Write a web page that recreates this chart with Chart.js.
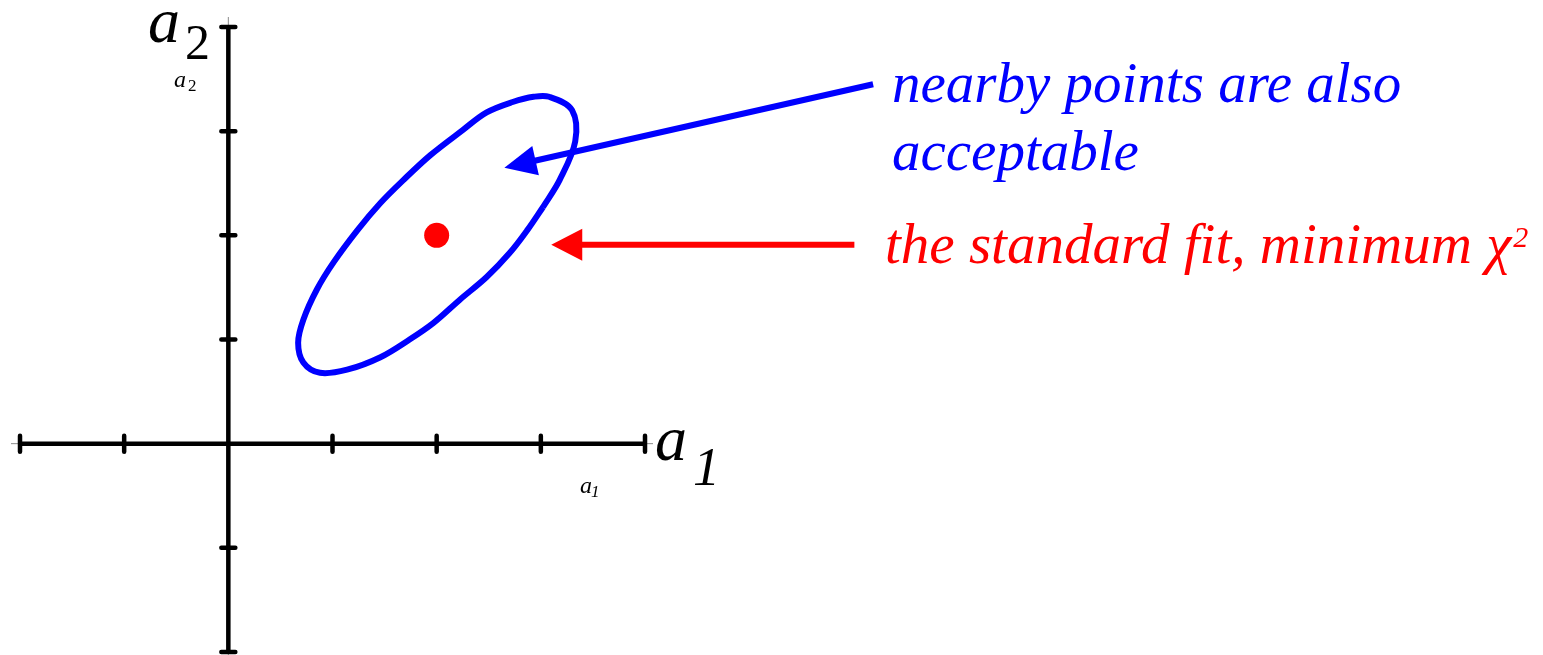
<!DOCTYPE html>
<html>
<head>
<meta charset="utf-8">
<script src="https://cdn.jsdelivr.net/npm/chart.js@4.4.1/dist/chart.umd.min.js"></script>
<style>
  html, body { margin: 0; padding: 0; background: #ffffff; overflow: hidden; }
  canvas { display: block; }
</style>
</head>
<body>
<canvas id="c" width="1543" height="655"></canvas>
<script>
// ---- data ----
const xTicks = [-2, -1, 1, 2, 3, 4];
const yTicks = [-2, -1, 1, 2, 3, 4];
const ellipseX = [3.02, 2.87, 2.70, 2.48, 2.22, 1.97, 1.74, 1.46, 1.14, 0.88, 0.72, 0.67, 0.72, 0.85, 1.01, 1.24, 1.46, 1.68, 1.94, 2.25, 2.48, 2.73, 2.93, 3.08, 3.30, 3.33, 3.18, 3.02];
const ellipseY = [2.27, 2.05, 1.83, 1.60, 1.38, 1.16, 1.00, 0.83, 0.71, 0.68, 0.78, 0.97, 1.19, 1.48, 1.74, 2.05, 2.31, 2.53, 2.77, 3.01, 3.18, 3.28, 3.33, 3.33, 3.20, 2.90, 2.53, 2.27];
const fitX = [2.0];
const fitY = [2.0];
const blueNote = ["nearby points are also", "acceptable"];
const redNote = "the standard fit, minimum χ";

// annotation anchors in data units
const blueArrow = { from: [6.19, 3.45], to: [2.65, 2.65] };
const redArrow = { from: [6.01, 1.91], to: [3.10, 1.91] };

const serif = '"Liberation Serif", "Times New Roman", serif';

const axesPlugin = {
  id: 'axes',
  beforeDatasetsDraw(chart) {
    const ctx = chart.ctx, xs = chart.scales.x, ys = chart.scales.y;
    const x0 = xs.getPixelForValue(0), y0 = ys.getPixelForValue(0);
    const xl = xs.getPixelForValue(-2), xr = xs.getPixelForValue(4);
    const yt = ys.getPixelForValue(4), yb = ys.getPixelForValue(-2);
    ctx.save();
    ctx.strokeStyle = '#8a8a8a';
    ctx.lineWidth = 1;
    ctx.beginPath();
    ctx.moveTo(xl - 9, y0); ctx.lineTo(xr + 8, y0);
    ctx.moveTo(x0, yt - 10); ctx.lineTo(x0, yb + 3);
    ctx.stroke();
    ctx.strokeStyle = '#000';
    ctx.lineWidth = 4.5;
    ctx.beginPath();
    ctx.moveTo(xl, y0); ctx.lineTo(xr, y0);
    ctx.moveTo(x0, yt); ctx.lineTo(x0, yb);
    ctx.stroke();
    ctx.lineWidth = 4.5;
    ctx.lineCap = 'round';
    ctx.beginPath();
    xTicks.forEach(v => { const p = xs.getPixelForValue(v); ctx.moveTo(p, y0 - 8); ctx.lineTo(p, y0 + 8); });
    yTicks.forEach(v => { const p = ys.getPixelForValue(v); ctx.moveTo(x0 - 7, p); ctx.lineTo(x0 + 7, p); });
    ctx.stroke();
    ctx.restore();
  },
  afterDatasetsDraw(chart) {
    const ctx = chart.ctx, xs = chart.scales.x, ys = chart.scales.y;
    const P = (pt) => [xs.getPixelForValue(pt[0]), ys.getPixelForValue(pt[1])];
    function arrow(a, color, lw, headLen, headHalf) {
      const [x1, y1] = P(a.from), [x2, y2] = P(a.to);
      const ang = Math.atan2(y2 - y1, x2 - x1);
      const bx = x2 - headLen * Math.cos(ang), by = y2 - headLen * Math.sin(ang);
      ctx.save();
      ctx.strokeStyle = color; ctx.fillStyle = color; ctx.lineWidth = lw;
      ctx.beginPath(); ctx.moveTo(x1, y1); ctx.lineTo(bx + 2 * Math.cos(ang), by + 2 * Math.sin(ang)); ctx.stroke();
      ctx.beginPath();
      ctx.moveTo(x2, y2);
      ctx.lineTo(bx + headHalf * Math.sin(ang), by - headHalf * Math.cos(ang));
      ctx.lineTo(bx - headHalf * Math.sin(ang), by + headHalf * Math.cos(ang));
      ctx.closePath(); ctx.fill();
      ctx.restore();
    }
    arrow(blueArrow, '#0000ff', 6, 32, 15);
    arrow(redArrow, '#ff0000', 6, 31, 16);

    ctx.save();
    ctx.textBaseline = 'alphabetic';
    ctx.textAlign = 'left';
    ctx.fillStyle = '#0000ff';
    ctx.font = 'italic 57px ' + serif;
    ctx.fillText(blueNote[0], 892, 102);
    ctx.fillText(blueNote[1], 892, 170);
    ctx.fillStyle = '#ff0000';
    ctx.fillText(redNote, 885, 263);
    const w = ctx.measureText(redNote).width;
    ctx.font = 'italic 30px ' + serif;
    ctx.fillText('2', 885 + w + 2, 247);
    ctx.fillStyle = '#000';
    ctx.font = 'italic 64px ' + serif;
    ctx.fillText('a', 148, 42);
    ctx.font = '50px ' + serif;
    ctx.fillText('2', 185, 59);
    ctx.font = 'italic 24px ' + serif;
    ctx.fillText('a', 174, 87);
    ctx.font = '17px ' + serif;
    ctx.fillText('2', 188, 91);
    ctx.font = 'italic 64px ' + serif;
    ctx.fillText('a', 655, 460);
    ctx.font = 'italic 54px ' + serif;
    ctx.fillText('1', 693, 485);
    ctx.font = 'italic 24px ' + serif;
    ctx.fillText('a', 580, 493);
    ctx.font = 'italic 17px ' + serif;
    ctx.fillText('1', 591, 497);
    ctx.restore();
  }
};

const U = 625 / 6;
new Chart(document.getElementById('c'), {
  type: 'scatter',
  data: {
    datasets: [
      {
        type: 'line',
        data: ellipseX.map((x, i) => ({ x, y: ellipseY[i] })),
        borderColor: '#0000ff',
        borderWidth: 6,
        pointRadius: 0,
        tension: 0.35,
        fill: false
      },
      {
        type: 'scatter',
        data: fitX.map((x, i) => ({ x, y: fitY[i] })),
        backgroundColor: '#ff0000',
        borderWidth: 0,
        pointRadius: 12.5
      }
    ]
  },
  options: {
    responsive: false,
    animation: false,
    events: [],
    layout: { autoPadding: false, padding: { left: 20, top: 27, bottom: 655 - 27 - 6 * U, right: 1543 - 20 - 14.5 * U } },
    plugins: { legend: { display: false }, tooltip: { enabled: false } },
    scales: {
      x: { type: 'linear', min: -2, max: 12.5, display: false },
      y: { type: 'linear', min: -2, max: 4, display: false }
    }
  },
  plugins: [axesPlugin]
});
</script>
</body>
</html>
